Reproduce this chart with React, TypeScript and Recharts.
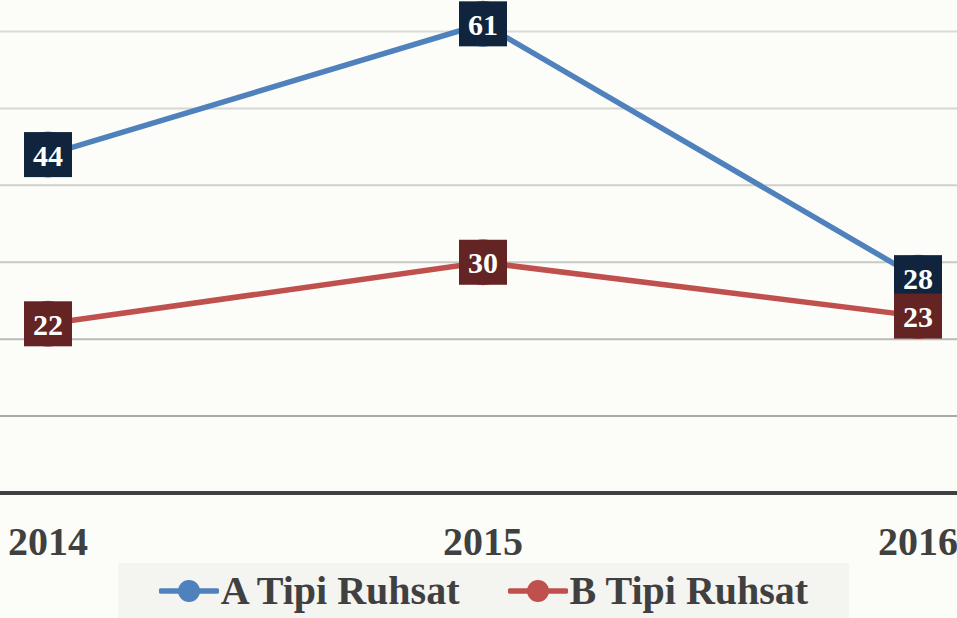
import { LineChart, Line, XAxis, YAxis, Legend, ReferenceLine, LabelList } from 'recharts'

const years = ['2014', '2015', '2016']
const tipiA = [44, 61, 28]
const tipiB = [22, 30, 23]
const gridValues = [10, 20, 30, 40, 50, 60]

const data = years.map((year, i) => ({ year, a: tipiA[i], b: tipiB[i] }))

const GRID_COLORS: Record<number, string> = {
  10: '#a9a9a5',
  20: '#bababa',
  30: '#c8c8c4',
  40: '#d0d0cc',
  50: '#d6d6d2',
  60: '#dadad6',
}

const FONT = '"Liberation Serif", "Times New Roman", serif'

function makeBoxLabel(fill: string) {
  return (props: any) => {
    const { x, y, value } = props
    if (x == null || y == null) return null
    return (
      <g>
        <rect x={x - 24} y={y - 22.5} width={48} height={45} fill={fill} />
        <text
          x={x}
          y={y + 11}
          textAnchor="middle"
          fill="#ffffff"
          fontFamily={FONT}
          fontWeight="bold"
          fontSize={30}
        >
          {value}
        </text>
      </g>
    )
  }
}

function LegendBox() {
  const items = [
    { label: 'A Tipi Ruhsat', color: '#4f81bd' },
    { label: 'B Tipi Ruhsat', color: '#c0504d' },
  ]
  return (
    <div
      style={{
        background: '#f4f4f1',
        height: 55,
        display: 'flex',
        alignItems: 'center',
        justifyContent: 'center',
        gap: 48,
        fontFamily: FONT,
        fontWeight: 'bold',
        fontSize: 40,
        color: '#404040',
      }}
    >
      {items.map(it => (
        <span key={it.label} style={{ display: 'flex', alignItems: 'center' }}>
          <svg width={60} height={26} style={{ marginRight: 2 }}>
            <line x1={2} y1={13} x2={58} y2={13} stroke={it.color} strokeWidth={5.5} strokeLinecap="round" />
            <circle cx={30} cy={13} r={11} fill={it.color} />
          </svg>
          {it.label}
        </span>
      ))}
    </div>
  )
}

export default function App() {
  return (
    <div style={{ position: 'absolute', left: 0, top: 0, width: 957, height: 618, background: '#fcfcf9', overflow: 'hidden' }}>
      <LineChart width={957} height={618} data={data} margin={{ top: 0, right: 0, left: 0, bottom: 0 }}>
        <YAxis hide domain={[0, 64.1]} ticks={[0, ...gridValues]} />
        {gridValues.map(v => (
          <ReferenceLine key={v} y={v} stroke={GRID_COLORS[v]} strokeWidth={2} />
        ))}
        <XAxis
          dataKey="year"
          height={70}
          padding={{ left: 48, right: 39 }}
          tickSize={0}
          tickMargin={34}
          axisLine={{ stroke: '#404040', strokeWidth: 4 }}
          tick={{ fill: '#404040', fontFamily: FONT, fontWeight: 'bold', fontSize: 40 }}
          interval={0}
        />
        <Legend
          verticalAlign="bottom"
          height={55}
          wrapperStyle={{ left: 118, width: 731, bottom: 0 }}
          content={() => <LegendBox />}
        />
        <Line
          type="linear"
          dataKey="a"
          stroke="#4f81bd"
          strokeWidth={5.5}
          dot={{ r: 23, fill: '#4f81bd', stroke: 'none' }}
          isAnimationActive={false}
        >
          <LabelList dataKey="a" content={makeBoxLabel('#10243e')} />
        </Line>
        <Line
          type="linear"
          dataKey="b"
          stroke="#c0504d"
          strokeWidth={5.5}
          dot={{ r: 23, fill: '#c0504d', stroke: 'none' }}
          isAnimationActive={false}
        >
          <LabelList dataKey="b" content={makeBoxLabel('#632423')} />
        </Line>
      </LineChart>
    </div>
  )
}
